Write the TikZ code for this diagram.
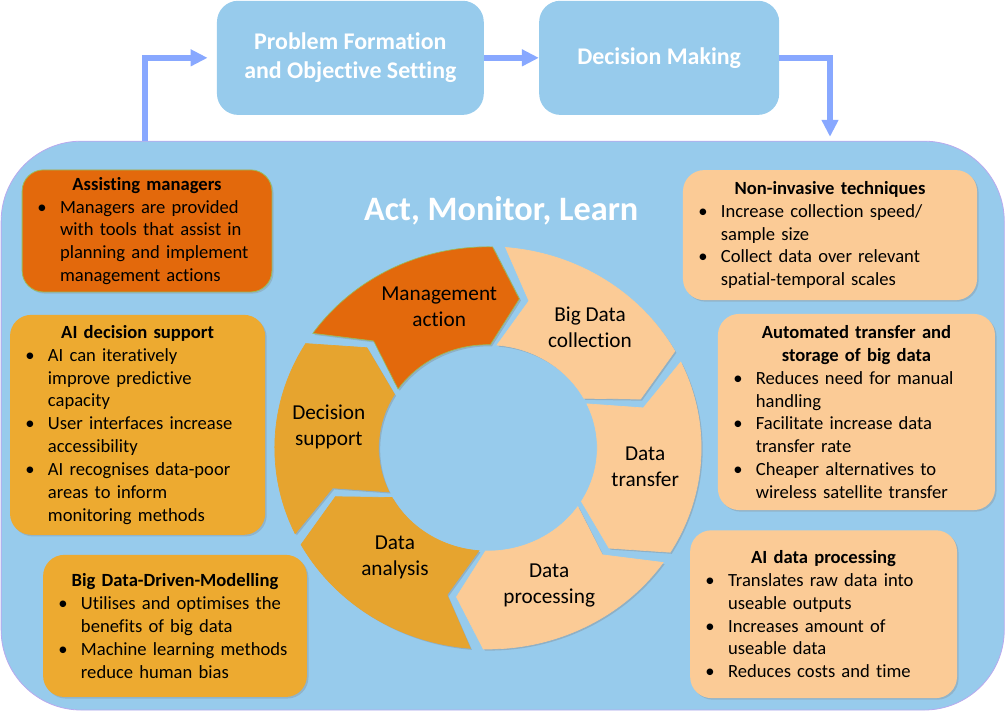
\documentclass[tikz,border=0pt]{standalone}
\usepackage{fontspec}
\setmainfont{Carlito}[Ligatures={NoCommon,NoContextual}, Contextuals=NoAlternate]
\usepackage{tikz}
\usetikzlibrary{positioning,arrows.meta,shadows}
\definecolor{loopblue}{HTML}{97CBEC}
\definecolor{loopedge}{HTML}{B9A9EE}
\definecolor{flowblue}{HTML}{88A8FF}
\definecolor{actorange}{HTML}{E3690C}
\definecolor{goldbox}{HTML}{EDAA30}
\definecolor{goldseg}{HTML}{E6A42F}
\definecolor{peach}{HTML}{FBCB96}
\definecolor{leafgreen}{HTML}{9BBB59}
\newcommand{\ttl}[1]{{\centering\bfseries #1\par}}
\newcommand{\bul}[1]{\par\hangindent=20pt\hangafter=1\noindent\makebox[20pt][l]{\hspace{3pt}\textbullet}#1\par}

\begin{document}
\begin{tikzpicture}[
  font=\fontsize{14}{17.2}\selectfont,
  topbox/.style={fill=loopblue, rounded corners=16pt, minimum height=3.02cm, align=center, text=white, font=\fontsize{18}{21.5}\selectfont\bfseries},
  infobox/.style={rounded corners=16pt, align=left, inner xsep=0.3cm, inner ysep=2pt, drop shadow={shadow xshift=1.2pt, shadow yshift=-1.2pt, opacity=0.3}},
  seglab/.style={align=center, font=\fontsize{16}{19.5}\selectfont},
  segshade/.style={drop shadow={shadow xshift=1.2pt, shadow yshift=-1.2pt, opacity=0.35}},
  flow/.style={line width=4.5pt, draw=flowblue, -{Triangle[length=12.75pt, width=12pt]}},
]
  \useasboundingbox (0,0) rectangle (26.59,-18.84);
  \node[draw=loopedge, fill=loopblue, line width=0.6pt, rounded corners=2.12cm, minimum width=26.54cm, minimum height=15.05cm] (loop) at (13.30,-11.26) {};

  \node[topbox, minimum width=7.06cm] (prob) at (9.27,-1.53) {Problem Formation\\and Objective Setting};
  \node[topbox, minimum width=6.35cm] (dec) at (17.44,-1.53) {Decision Making};
  \coordinate (up) at (3.84,-3.73);
  \coordinate (down) at (21.96,-3.62);
  \draw[flow, shorten >=0.24cm] (up) |- (prob.west);
  \draw[flow] (prob) -- (dec);
  \draw[flow] (dec) -| (down);

  \node[text=white, font=\fontsize{25.8}{30}\selectfont\bfseries] (aml) at (13.26,-5.58) {Act, Monitor, Learn};

  \begin{scope}[shift={(12.91,-11.85)}, xscale=1.06]
    \foreach \b/\c/\e in {147/actorange/leafgreen, 87/peach/peach, 27/peach/peach, -33/peach/peach, -93/goldseg/goldseg, -153/goldseg/goldseg}
      \filldraw[fill=\c, draw=\e, line width=0.5pt, segshade]
        ({\b-1.75}:5.32) arc[start angle={\b-1.75}, end angle={\b-58.25}, radius=5.32]
        -- ({\b-68.25}:4.02) -- ({\b-58.25}:2.73)
        arc[start angle={\b-58.25}, end angle={\b-1.75}, radius=2.73]
        -- ({\b-11.75}:4.02) -- cycle;
  \end{scope}

  \node[seglab] (mgmt) at (11.62,-8.12) {Management\\action};
  \node[seglab] (collect) at (15.61,-8.65) {Big Data\\collection};
  \node[seglab] (trans) at (17.07,-12.36) {Data\\transfer};
  \node[seglab] (process) at (14.53,-15.48) {Data\\processing};
  \node[seglab] (analyse) at (10.45,-14.74) {Data\\analysis};
  \node[seglab] (support) at (8.70,-11.30) {Decision\\support};

  \node[infobox, fill=actorange, draw=leafgreen, line width=0.6pt, text width=6.01cm, minimum height=3.23cm] (assist) at (3.89,-6.11) {\ttl{Assisting managers}\bul{Managers are provided\break with tools that assist in\break planning and implement\break management actions}};
  \node[infobox, fill=goldbox, text width=6.15cm, minimum height=5.82cm] (aids) at (3.64,-11.24) {\ttl{AI decision support}\bul{AI can iteratively\break improve predictive\break capacity}\bul{User interfaces increase\break accessibility}\bul{AI recognises data-poor\break areas to inform\break monitoring methods}};
  \node[infobox, fill=goldbox, text width=6.38cm, minimum height=3.76cm] (model) at (4.63,-16.56) {\ttl{Big Data-Driven-Modelling}\bul{Utilises and optimises the\break benefits of big data}\bul{Machine learning methods\break reduce human bias}};
  \node[infobox, fill=peach, text width=7.18cm, minimum height=3.44cm] (noninv) at (21.96,-6.22) {\ttl{Non-invasive techniques}\bul{Increase collection speed/\break sample size}\bul{Collect data over relevant\break spatial-temporal scales}};
  \node[infobox, fill=peach, text width=6.73cm, minimum height=5.19cm] (storage) at (22.66,-10.90) {\ttl{Automated transfer and\break storage of big data}\bul{Reduces need for manual\break handling}\bul{Facilitate increase data\break transfer rate}\bul{Cheaper alternatives to\break wireless satellite transfer}};
  \node[infobox, fill=peach, text width=6.46cm, minimum height=4.44cm] (aiproc) at (21.79,-16.25) {\ttl{AI data processing}\bul{Translates raw data into\break useable outputs}\bul{Increases amount of\break useable data}\bul{Reduces costs and time}};
\end{tikzpicture}
\end{document}
